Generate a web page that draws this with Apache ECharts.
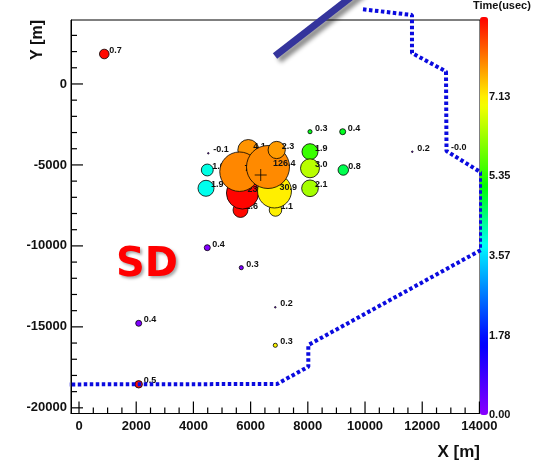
<!DOCTYPE html>
<html><head><meta charset="utf-8">
<script src="https://cdn.jsdelivr.net/npm/echarts@6/dist/echarts.min.js"></script>
<style>html,body{margin:0;padding:0;background:#fff}#c{width:558px;height:469px}</style>
</head><body><div id="c"></div>
<script>
// ---- data (drawing order) ----
const stationX = [884, 8076, 9219, 8076, 8076, 8076, 9240, 11653, 12831, 4520, 4485, 4440, 4485, 5674, 6863, 6863, 2087, 2087,
                  5646, 6870, 5716, 6835, 5919, 5611, 6608, 6912];
const stationY = [1850, -2948, -2948, -4183, -5208, -6443, -5313, -4183, -4140, -4282, -5313, -6443, -10111, -11346, -13792, -16138, -14780, -18547,
                  -7783, -7783, -6733, -6610, -4078, -5418, -5128, -4078];
const stationTime = [8.85, 5.0, 4.95, 5.45, 6.45, 6.3, 4.7, 0, 0, 0, 3.9, 3.85, 0.05, 0.1, 0, 7.05, 0.1, 8.8,
                     8.85, 7.1, 8.88, 7.12, 7.8, 7.9, 7.88, 7.75];
const stationSignal = [0.7, 0.3, 0.4, 1.9, 3.0, 2.1, 0.8, 0.2, -0.04, -0.1, 1.0, 1.9, 0.4, 0.3, 0.2, 0.3, 0.4, 0.5,
                       1.6, 1.1, 23.4, 30.9, 4.1, 72.5, 126.4, 2.3];
const coreX = [6353];
const coreY = [-5622];
const boundaryX = [9929, 11642, 11642, 12831, 12849, 14055, 14055, 8017, 8017, 6922, -2063];
const boundaryY = [4611, 4259, 1912, 770, -4140, -5467, -10253, -16120, -17460, -18528, -18559];
const arrowX = [6852, 10278];
const arrowY = [1727, 6420];
const xTicks = [0, 2000, 4000, 6000, 8000, 10000, 12000, 14000];
const xMinorTicks = [500, 1000, 1500, 2500, 3000, 3500, 4500, 5000, 5500, 6500, 7000, 7500, 8500, 9000, 9500, 10500, 11000, 11500, 12500, 13000, 13500];
const yTicks = [-20000, -15000, -10000, -5000, 0];
const yMinorTicks = [-19000, -18000, -17000, -16000, -14000, -13000, -12000, -11000, -9000, -8000, -7000, -6000, -4000, -3000, -2000, -1000, 1000, 2000, 3000];
const colorTicks = [0, 1.78, 3.57, 5.35, 7.13];
const timeMax = 8.91;
const X_MIN = -280, X_MAX = 14020, Y_MIN = -20350, Y_MAX = 3950;

// ---- styling helpers ----
const FONT = '"Liberation Sans", Arial, Helvetica, sans-serif';
const hueStopsV = [0, 1.78, 3.57, 5.35, 7.13, 8.91];
const hueStopsH = [272, 236, 188, 110, 56, 0];
function hueAt(v) {
  for (let i = 0; i < hueStopsV.length - 1; i++) {
    if (v <= hueStopsV[i + 1]) {
      const f = (v - hueStopsV[i]) / (hueStopsV[i + 1] - hueStopsV[i]);
      return hueStopsH[i] + f * (hueStopsH[i + 1] - hueStopsH[i]);
    }
  }
  return 0;
}
const palette = [];
for (let k = 0; k <= 40; k++) palette.push('hsl(' + hueAt(timeMax * k / 40).toFixed(1) + ',100%,50%)');
function bubbleSize(s) { return s > 0 ? Math.max(1.5, 11.9 + 14.8 * Math.log10(s)) : 1.5; }

const series = [];
const pointIdx = [];
for (let i = 0; i < stationX.length; i++) {
  pointIdx.push(series.length);
  series.push({
    type: 'scatter', xAxisIndex: 0, yAxisIndex: 0, z: 10 + i, silent: true,
    data: [[stationX[i], stationY[i], stationTime[i], stationSignal[i]]],
    symbolSize: v => bubbleSize(v[3]),
    itemStyle: { borderColor: '#000', borderWidth: 0.8, opacity: 1 },
    label: {
      show: true, position: 'inside', align: 'left', verticalAlign: 'middle', offset: [5, -3.5],
      formatter: p => p.value[3].toFixed(1), fontSize: 9, fontWeight: 'bold', fontFamily: FONT,
      color: '#111', textBorderWidth: 0
    }
  });
}
series.push({
  type: 'scatter', xAxisIndex: 0, yAxisIndex: 0, z: 60, silent: true,
  data: coreX.map((x, i) => [x, coreY[i]]),
  symbol: 'path://M0,6L12,6M6,0L6,12', symbolSize: 12,
  itemStyle: { color: 'none', borderColor: '#000', borderWidth: 1 }
});
series.push({
  type: 'line', xAxisIndex: 0, yAxisIndex: 0, z: 80, silent: true, clip: false, symbol: 'none',
  data: boundaryX.map((x, i) => [x, boundaryY[i]]),
  lineStyle: { color: '#0b0bdf', width: 4, type: [3.5, 2.5], cap: 'butt' }
});
series.push({
  type: 'line', xAxisIndex: 0, yAxisIndex: 0, z: 80, silent: true, clip: false, symbol: 'none',
  data: arrowX.map((x, i) => [x, arrowY[i]]),
  lineStyle: { color: '#34349c', width: 7, cap: 'butt', shadowColor: 'rgba(0,0,0,0.45)', shadowBlur: 4, shadowOffsetX: 4, shadowOffsetY: 4 }
});
// axis ticks (inside, ROOT style): [x, y, length, direction] placed through the axes' scales
const tickData = [];
xTicks.forEach(v => tickData.push([v, Y_MIN, 12, 0]));
xMinorTicks.forEach(v => tickData.push([v, Y_MIN, 6, 0]));
yTicks.forEach(v => tickData.push([X_MIN, v, 12, 1]));
yMinorTicks.forEach(v => tickData.push([X_MIN, v, 6, 1]));
series.push({
  type: 'custom', xAxisIndex: 0, yAxisIndex: 0, z: 95, silent: true, clip: false,
  encode: { x: 0, y: 1 },
  data: tickData,
  renderItem: (params, api) => {
    const p = api.coord([api.value(0), api.value(1)]);
    const len = api.value(2), dir = api.value(3);
    const shape = dir === 0
      ? { x1: p[0], y1: p[1], x2: p[0], y2: p[1] - len }
      : { x1: p[0], y1: p[1], x2: p[0] + len, y2: p[1] };
    return { type: 'line', shape: shape, style: { stroke: '#000', lineWidth: 1.2 } };
  }
});

const chart = echarts.init(document.getElementById('c'), null, { renderer: 'canvas' });
chart.setOption({
  animation: false,
  grid: [
    { left: 71, right: 78, top: 20, bottom: 55.5, show: true, borderColor: '#000', borderWidth: 1, outerBoundsMode: 'none' },
    { left: 480, top: 17, width: 8, height: 398, show: false, outerBoundsMode: 'none' }
  ],
  xAxis: [
    { type: 'value', gridIndex: 0, position: 'bottom', min: X_MIN, max: X_MAX,
      axisLine: { show: true, onZero: false, lineStyle: { color: '#000' } }, splitLine: { show: false },
      axisTick: { show: false },
      axisLabel: { customValues: xTicks, margin: 6, fontSize: 13, fontWeight: 'bold', fontFamily: FONT, color: '#111', formatter: v => String(v) } },
    { type: 'value', gridIndex: 1, show: false, min: 0, max: 1 }
  ],
  yAxis: [
    { type: 'value', gridIndex: 0, position: 'left', min: Y_MIN, max: Y_MAX,
      axisLine: { show: true, onZero: false, lineStyle: { color: '#000' } }, splitLine: { show: false },
      axisTick: { show: false },
      axisLabel: { customValues: yTicks, margin: 4, fontSize: 13, fontWeight: 'bold', fontFamily: FONT, color: '#111', formatter: v => String(v) } },
    { type: 'value', gridIndex: 1, position: 'right', min: 0, max: timeMax,
      axisLine: { show: false }, axisTick: { show: false }, splitLine: { show: false },
      axisLabel: { customValues: colorTicks, formatter: v => v.toFixed(2), fontSize: 11, fontWeight: 'bold', fontFamily: FONT, color: '#111', margin: 1 } }
  ],
  visualMap: {
    type: 'continuous', min: 0, max: timeMax, dimension: 2, seriesIndex: pointIdx,
    inRange: { color: palette }, orient: 'vertical', left: 480, top: 17, itemWidth: 8, itemHeight: 398,
    padding: 0, calculable: false, hoverLink: false, text: null, z: 3
  },
  graphic: [
    { type: 'text', x: 116, y: 266, z: 100, style: { text: 'SD', fill: '#ff0000', font: 'bold 40px "DejaVu Sans", sans-serif', align: 'left', verticalAlign: 'middle',
      textShadowColor: 'rgba(0,0,0,0.35)', textShadowBlur: 3, textShadowOffsetX: 2, textShadowOffsetY: 2 } },
    { type: 'text', x: 480, y: 452, z: 100, style: { text: 'X [m]', fill: '#111', font: 'bold 17px ' + FONT, align: 'right', verticalAlign: 'middle' } },
    { type: 'text', x: 37.5, y: 40, rotation: Math.PI / 2, z: 100, style: { text: 'Y [m]', fill: '#111', font: 'bold 16px ' + FONT, align: 'center', verticalAlign: 'middle' } },
    { type: 'text', x: 473, y: 11, z: 100, style: { text: 'Time(usec)', fill: '#111', font: 'bold 11px ' + FONT, align: 'left', verticalAlign: 'bottom' } }
  ],
  series: series
});
</script></body></html>
